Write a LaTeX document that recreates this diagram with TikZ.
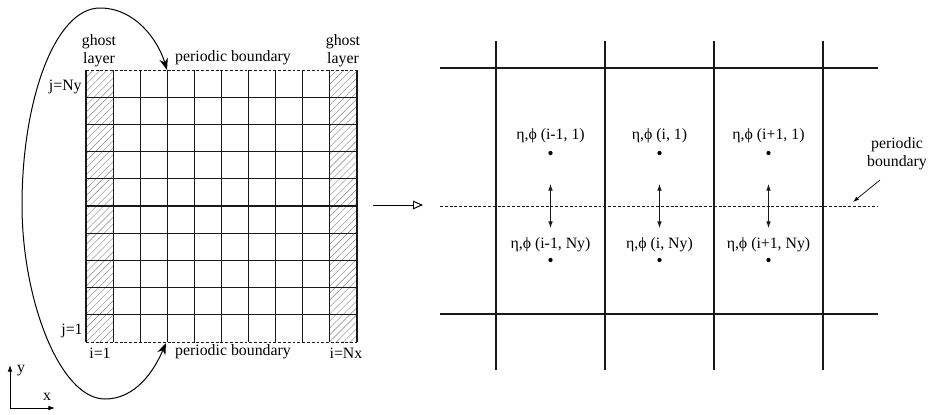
\documentclass[tikz,border=0pt]{standalone}
\usepackage{fontspec}
\setmainfont{Liberation Serif}
\usetikzlibrary{arrows.meta, patterns.meta, positioning}

\begin{document}
\begin{tikzpicture}[
  x=0.03cm, y=-0.03cm,
  lbl/.style={font=\fontsize{13.5}{15.4}\selectfont, inner sep=1pt},
  gridline/.style={draw=black!90, line width=1pt},
  bnd/.style={draw=black!90, line width=0.75pt, dash pattern=on 2.5pt off 1.6pt},
  ghost/.style={pattern={Lines[angle=45, distance=4.2pt, line width=0.35pt]}, pattern color=black!50},
  swap/.style={draw=black!90, line width=0.75pt, {Latex[length=2mm,width=1.4mm]}-{Latex[length=2mm,width=1.4mm]}},
  pnt/.style={circle, fill=black, inner sep=0pt, minimum size=3.6pt}
]
\useasboundingbox (0,0) rectangle (939,414);

% left: grid with ghost layers
\fill[ghost] (86,70) rectangle (113,342);
\fill[ghost] (330,70) rectangle (357,342);
\foreach \k in {0,...,10}
  \draw[gridline] (86+27.1*\k,70) -- (86+27.1*\k,342);
\foreach \k in {1,...,9}
  \draw[gridline] (86,70+27.2*\k) -- (357,70+27.2*\k);
\draw[bnd] (86,70) -- (357,70);
\draw[bnd] (86,342) -- (357,342);

\node[lbl, align=center] (ghostL) at (99,51) {ghost\\layer};
\node[lbl, align=center] (ghostR) at (343,51) {ghost\\layer};
\node[lbl] (pbtop) at (233,58) {periodic boundary};
\node[lbl, anchor=east] (jNy) at (83,87) {j=Ny};
\node[lbl, anchor=east] (j1) at (84,331) {j=1};
\node[lbl] (i1) at (100,353) {i=1};
\node[lbl] (pbbot) at (233,352) {periodic boundary};
\node[lbl] (iNx) at (346,353) {i=Nx};

% wrap-around arrow
\coordinate (arcT) at (167,70);
\coordinate (arcB) at (166,343);
\draw[line width=0.85pt, {Stealth[length=3.5mm,width=2.6mm]}-{Stealth[length=3.5mm,width=2.6mm]}]
  (arcB) .. controls (150,380) and (130,399) .. (105,399)
  .. controls (60,399) and (22,300) .. (22,205)
  .. controls (22,100) and (55,8) .. (100,8)
  .. controls (135,8) and (158,40) .. (arcT);

% axes
\coordinate (orig) at (10,408);
\coordinate (yend) at (10,365);
\coordinate (xend) at (55,408);
\draw[line width=0.75pt, {Latex[length=2mm,width=1.4mm]}-{Latex[length=2mm,width=1.4mm]}] (yend) -- (orig) -- (xend);
\node[lbl] (ylab) at (21,371) {y};
\node[lbl] (xlab) at (47,397) {x};

% zoom arrow
\coordinate (zA) at (373,205);
\coordinate (zB) at (423,205);
\draw[line width=0.85pt, -{Triangle[open,length=3mm,width=2.6mm]}] (zA) -- (zB);

% right: cells across the boundary
\foreach \c in {496,605,714,823}
  \draw[gridline] (\c,41) -- (\c,370);
\draw[gridline] (440,68) -- (878,68);
\draw[gridline] (440,314) -- (878,314);
\draw[bnd] (440,206) -- (878,206);

\foreach \c/\lab [count=\n] in {550.5/i-1, 659.5/i, 768.5/i+1} {
  \node[lbl] (up\n) at (\c,136) {η,ϕ (\lab, 1)};
  \node[pnt] (dotu\n) at (\c,153) {};
  \node[lbl] (lo\n) at (\c,245) {η,ϕ (\lab, Ny)};
  \node[pnt] (dotl\n) at (\c,260) {};
  \coordinate (au\n) at (\c,184);
  \coordinate (al\n) at (\c,228);
  \draw[swap] (au\n) -- (al\n);
}

\node[lbl, align=center] (pbR) at (897,154) {periodic\\boundary};
\coordinate (pbS) at (880,180);
\coordinate (pbE) at (853,202);
\draw[line width=0.6pt, -{Latex[length=1.8mm,width=1.2mm]}] (pbS) -- (pbE);
\end{tikzpicture}
\end{document}
